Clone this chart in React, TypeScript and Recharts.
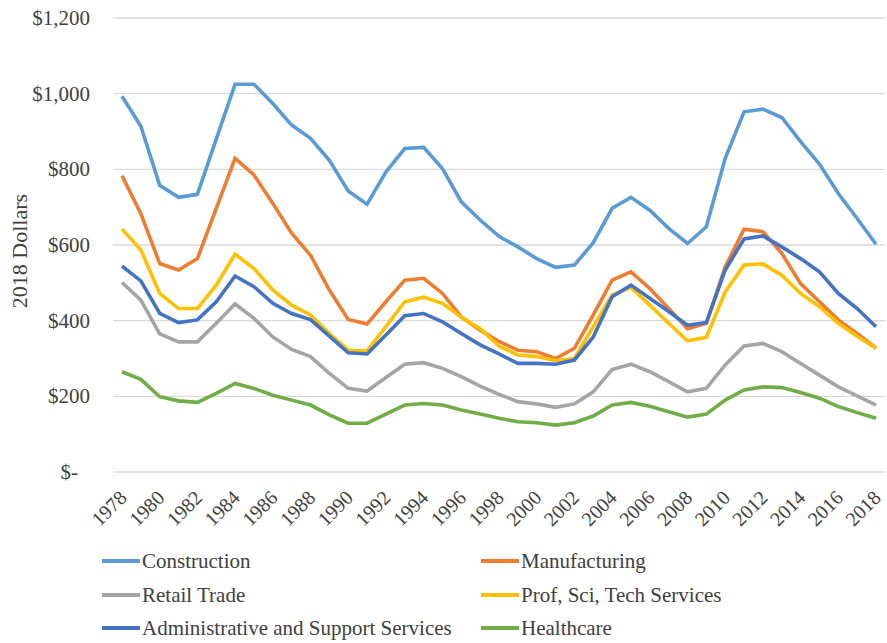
import { LineChart, Line, XAxis, YAxis, CartesianGrid } from 'recharts';

const years = [
  1978, 1979, 1980, 1981, 1982, 1983, 1984, 1985, 1986, 1987,
  1988, 1989, 1990, 1991, 1992, 1993, 1994, 1995, 1996, 1997,
  1998, 1999, 2000, 2001, 2002, 2003, 2004, 2005, 2006, 2007,
  2008, 2009, 2010, 2011, 2012, 2013, 2014, 2015, 2016, 2017, 2018,
];

const construction = [
  993, 914, 758, 726, 734, 880, 1025, 1025, 974, 917,
  882, 824, 743, 708, 793, 855, 858, 802, 714, 666,
  623, 595, 564, 541, 547, 606, 697, 726, 692, 644,
  604, 648, 829, 952, 959, 937, 873, 814, 736, 670, 602,
];
const manufacturing = [
  783, 683, 551, 534, 564, 697, 829, 785, 710, 631,
  573, 481, 403, 391, 450, 507, 512, 472, 410, 375,
  345, 322, 318, 300, 327, 415, 507, 529, 485, 432,
  379, 393, 542, 642, 635, 578, 498, 450, 402, 366, 327,
];
const retail = [
  501, 454, 365, 344, 344, 393, 444, 406, 357, 324,
  305, 261, 221, 214, 250, 285, 289, 274, 252, 227,
  205, 186, 180, 171, 180, 212, 271, 285, 265, 239,
  212, 221, 283, 333, 340, 318, 287, 256, 225, 201, 177,
];
const profSciTech = [
  642, 587, 472, 432, 432, 494, 576, 538, 481, 441,
  415, 366, 322, 320, 384, 450, 462, 446, 409, 379,
  333, 309, 305, 294, 300, 384, 468, 488, 441, 393,
  347, 356, 476, 547, 550, 520, 472, 437, 393, 359, 327,
];
const adminSupport = [
  544, 505, 419, 395, 402, 450, 518, 490, 446, 419,
  403, 359, 315, 312, 362, 413, 419, 397, 366, 336,
  312, 287, 287, 285, 296, 357, 463, 494, 459, 424,
  388, 395, 534, 616, 624, 595, 564, 529, 472, 432, 384,
];
const healthcare = [
  265, 245, 199, 188, 184, 208, 234, 221, 203, 190,
  177, 151, 129, 129, 153, 177, 181, 177, 164, 153,
  142, 133, 130, 124, 130, 148, 177, 184, 174, 159,
  145, 153, 190, 217, 225, 223, 210, 195, 173, 157, 142,
];

const yTicks = [0, 200, 400, 600, 800, 1000, 1200];

const series = [
  { key: 'construction', name: 'Construction', color: '#5B9BD5', values: construction },
  { key: 'manufacturing', name: 'Manufacturing', color: '#ED7D31', values: manufacturing },
  { key: 'retail', name: 'Retail Trade', color: '#A5A5A5', values: retail },
  { key: 'prof', name: 'Prof, Sci, Tech Services', color: '#FFC000', values: profSciTech },
  { key: 'admin', name: 'Administrative and Support Services', color: '#4472C4', values: adminSupport },
  { key: 'health', name: 'Healthcare', color: '#70AD47', values: healthcare },
];

const data = years.map((year, i) => {
  const row: Record<string, number> = { year };
  series.forEach((s) => {
    row[s.key] = s.values[i];
  });
  return row;
});

const FONT = 'Liberation Serif, Tinos, DejaVu Serif, serif';
const TEXT = '#404040';

function YTick(props: any) {
  const { y, payload } = props;
  const v = payload.value as number;
  const label = v === 0 ? '$-' : '$' + v.toLocaleString('en-US');
  return (
    <text x={v === 0 ? 78 : 90} y={y} textAnchor="end" dominantBaseline="central" fontSize={21} fontFamily={FONT} fill={TEXT}>
      {label}
    </text>
  );
}

function XTick(props: any) {
  const { x, payload } = props;
  return (
    <text transform={`translate(${x + 6},${499}) rotate(-45)`} textAnchor="end" fontSize={20} fontFamily={FONT} fill={TEXT}>
      {payload.value}
    </text>
  );
}

export default function App() {
  const legendRows = [
    [series[0], series[1]],
    [series[2], series[3]],
    [series[4], series[5]],
  ];
  const rowY = [561, 595, 628];
  const colX = [102, 481];

  return (
    <div style={{ position: 'absolute', left: 0, top: 0, width: 887, height: 643, background: '#fff', fontFamily: FONT }}>
      <LineChart width={887} height={540} data={data} margin={{ top: 18, right: 2, bottom: 0, left: 0 }}>
        <CartesianGrid vertical={false} stroke="#D9D9D9" strokeWidth={1.3} />
        <XAxis
          dataKey="year"
          interval={1}
          axisLine={false}
          tickLine={false}
          padding={{ left: 9, right: 9 }}
          height={68}
          tick={<XTick />}
        />
        <YAxis
          domain={[0, 1200]}
          ticks={yTicks}
          axisLine={false}
          tickLine={false}
          width={113}
          tick={<YTick />}
        />
        {series.map((s) => (
          <Line
            key={s.key}
            type="linear"
            dataKey={s.key}
            name={s.name}
            stroke={s.color}
            strokeWidth={3.6}
            dot={false}
            activeDot={false}
            isAnimationActive={false}
          />
        ))}
      </LineChart>
      <div
        style={{
          position: 'absolute',
          left: 20,
          top: 251,
          transform: 'translate(-50%, -50%) rotate(-90deg)',
          fontSize: 22,
          color: TEXT,
          whiteSpace: 'nowrap',
        }}
      >
        2018 Dollars
      </div>
      {legendRows.map((row, r) =>
        row.map((s, c) => (
          <div
            key={s.key}
            style={{
              position: 'absolute',
              left: colX[c],
              top: rowY[r] - 14,
              height: 28,
              display: 'flex',
              alignItems: 'center',
              fontSize: 21,
              color: TEXT,
              whiteSpace: 'nowrap',
            }}
          >
            <span style={{ display: 'inline-block', width: 38, height: 4, background: s.color, marginRight: 2 }} />
            {s.name}
          </div>
        ))
      )}
    </div>
  );
}
